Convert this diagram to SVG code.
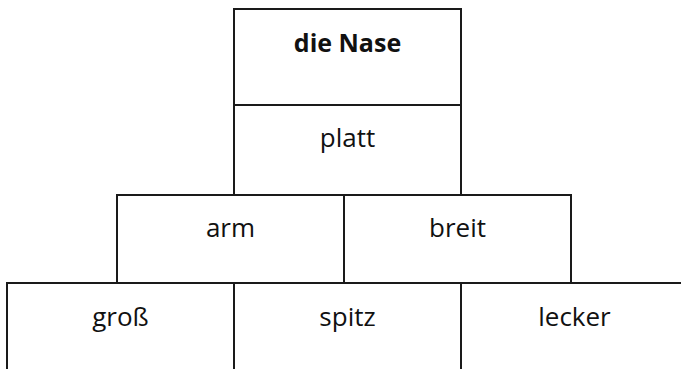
<svg xmlns="http://www.w3.org/2000/svg" width="681" height="369" viewBox="0 0 681 369">
  <style>
    .cell { fill: #ffffff; stroke: #1a1a1a; stroke-width: 2; }
    .lbl { font-family: "Open Sans", "Noto Sans", "Liberation Sans", sans-serif; font-size: 26px; fill: #111111; text-anchor: middle; }
    .bold { font-weight: bold; font-size: 25px; }
  </style>
  <rect width="681" height="369" fill="#ffffff"/>
  <!-- top column -->
  <g id="die-nase">
    <rect class="cell" x="234" y="9" width="227" height="96"/>
    <text class="lbl bold" x="347.5" y="52">die Nase</text>
  </g>
  <g id="platt">
    <rect class="cell" x="234" y="105" width="227" height="90"/>
    <text class="lbl" x="347.5" y="147">platt</text>
  </g>
  <!-- middle row -->
  <g id="arm">
    <rect class="cell" x="117" y="195" width="227" height="88"/>
    <text class="lbl" x="230.5" y="237">arm</text>
  </g>
  <g id="breit">
    <rect class="cell" x="344" y="195" width="227" height="88"/>
    <text class="lbl" x="457.5" y="237">breit</text>
  </g>
  <!-- bottom row, runs past the lower and right edges -->
  <g id="gross">
    <rect class="cell" x="7" y="283" width="227" height="100"/>
    <text class="lbl" x="120.5" y="326">groß</text>
  </g>
  <g id="spitz">
    <rect class="cell" x="234" y="283" width="227" height="100"/>
    <text class="lbl" x="347.5" y="326">spitz</text>
  </g>
  <g id="lecker">
    <rect class="cell" x="461" y="283" width="227" height="100"/>
    <text class="lbl" x="574.5" y="326">lecker</text>
  </g>
</svg>
